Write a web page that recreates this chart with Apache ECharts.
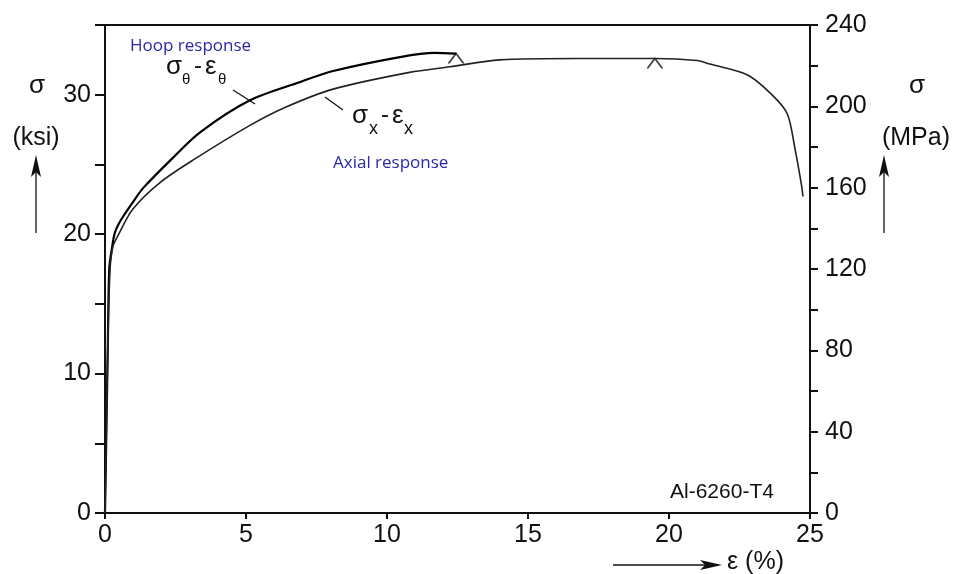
<!DOCTYPE html>
<html>
<head>
<meta charset="utf-8">
<script src="https://cdn.jsdelivr.net/npm/echarts@6/dist/echarts.min.js"></script>
<style>
  html, body { margin: 0; padding: 0; background: #fff; }
  #chart { width: 959px; height: 574px; }
</style>
</head>
<body>
<div id="chart"></div>
<script>
// 环向响应 (hoop)：应变 % / 应力 ksi
const hoopStrain = [0, 0.05, 0.1, 0.15, 0.24, 0.35, 0.59, 1.06, 1.35, 2.37, 3.37, 5.14, 6.9, 8.09, 10.46, 11.7, 12.45];
const hoopStress = [0, 6, 12, 17.5, 18.9, 20.1, 21.1, 22.5, 23.3, 25.4, 27.3, 29.6, 30.9, 31.7, 32.7, 33.0, 32.95];

// 轴向响应 (axial)
const axialStrain = [0, 0.05, 0.1, 0.18, 0.28, 0.46, 0.99, 1.95, 3.19, 5.14, 6.4, 8.09, 10.8, 12.23, 14.0, 16.8, 19.5, 21.0, 21.45, 22.8, 23.7, 24.2, 24.47, 24.7, 24.75];
const axialStress = [0, 6, 12, 17.5, 19.1, 19.9, 21.8, 23.7, 25.4, 27.8, 29.1, 30.4, 31.6, 32.0, 32.5, 32.6, 32.6, 32.45, 32.2, 31.4, 29.9, 28.6, 26.1, 23.5, 22.7];

// 标记点 (^)
const markStrain = [12.45, 19.5];
const markStress = [32.95, 32.6];

// 刻度
const strainTicks = [0, 5, 10, 15, 20, 25];
const ksiLabels = [0, 10, 20, 30];
const mpaLabels = [0, 40, 80, 120, 160, 200, 240];

const FONT = 'Liberation Sans';
const zip = (xs, ys) => xs.map((x, i) => [x, ys[i]]);

const chart = echarts.init(document.getElementById('chart'));

const axisLine = { show: true, onZero: false, lineStyle: { color: '#111', width: 2 } };
const tick = len => ({ show: true, inside: false, length: len, lineStyle: { color: '#111', width: 2 } });

const option = {
    animation: false,
    grid: { left: 105, right: 149, top: 25, bottom: 61, containLabel: false },
    xAxis: [
        {
            type: 'value', position: 'bottom',
            min: strainTicks[0], max: strainTicks[strainTicks.length - 1], interval: 5,
            axisLine, axisTick: tick(6), splitLine: { show: false },
            axisLabel: { fontFamily: FONT, fontSize: 25, color: '#111', margin: 10 }
        },
        {
            type: 'value', position: 'top',
            min: 0, max: 25,
            axisLine, axisTick: { show: false }, axisLabel: { show: false }, splitLine: { show: false }
        }
    ],
    yAxis: [
        {
            type: 'value', position: 'left',
            min: 0, max: 35, interval: 5,
            axisLine, axisTick: tick(10), splitLine: { show: false },
            axisLabel: {
                fontFamily: FONT, fontSize: 25, color: '#111', margin: 14,
                formatter: v => ksiLabels.includes(v) ? String(v) : ''
            }
        },
        {
            type: 'value', position: 'right',
            min: 0, max: 240, interval: 20,
            axisLine, axisTick: tick(8), splitLine: { show: false },
            axisLabel: {
                fontFamily: FONT, fontSize: 25, color: '#111', margin: 15,
                formatter: v => mpaLabels.includes(v) ? String(v) : ''
            }
        }
    ],
    series: [
        {
            name: 'hoop', type: 'line', data: zip(hoopStrain, hoopStress),
            smooth: 0.3, symbol: 'none',
            lineStyle: { color: '#000', width: 2.2 }
        },
        {
            name: 'axial', type: 'line', data: zip(axialStrain, axialStress),
            smooth: 0.3, symbol: 'none',
            lineStyle: { color: '#222', width: 1.6 }
        },
        {
            name: 'limit', type: 'scatter', data: zip(markStrain, markStress),
            symbol: 'path://M0,10L7,0L14,10', symbolSize: [15, 10], symbolOffset: [0, '50%'],
            itemStyle: { color: 'none', borderColor: '#111', borderWidth: 1.6 }
        }
    ],
    graphic: [
        // 注释文字
        { type: 'text', x: 130, y: 46, style: { text: 'Hoop response', fill: '#2828a8', font: '17px "Open Sans"', verticalAlign: 'middle' } },
        { type: 'text', x: 333, y: 163, style: { text: 'Axial response', fill: '#2828a8', font: '17px "Open Sans"', verticalAlign: 'middle' } },

        { type: 'text', x: 166, y: 67, style: { text: 'σ', fill: '#111', font: '26px "Liberation Sans"', verticalAlign: 'middle' } },
        { type: 'text', x: 182, y: 80, style: { text: 'θ', fill: '#111', font: '15px "Liberation Sans"', verticalAlign: 'middle' } },
        { type: 'text', x: 194, y: 66, style: { text: '-', fill: '#111', font: '24px "Liberation Sans"', verticalAlign: 'middle' } },
        { type: 'text', x: 205, y: 67, style: { text: 'ε', fill: '#111', font: '26px "Liberation Sans"', verticalAlign: 'middle' } },
        { type: 'text', x: 218, y: 80, style: { text: 'θ', fill: '#111', font: '15px "Liberation Sans"', verticalAlign: 'middle' } },
        { type: 'line', shape: { x1: 233, y1: 90, x2: 255, y2: 104 }, style: { stroke: '#111', lineWidth: 1.3 } },

        { type: 'text', x: 352, y: 116, style: { text: 'σ', fill: '#111', font: '26px "Liberation Sans"', verticalAlign: 'middle' } },
        { type: 'text', x: 369, y: 129, style: { text: 'x', fill: '#111', font: '18px "Liberation Sans"', verticalAlign: 'middle' } },
        { type: 'text', x: 381, y: 115, style: { text: '-', fill: '#111', font: '24px "Liberation Sans"', verticalAlign: 'middle' } },
        { type: 'text', x: 392, y: 116, style: { text: 'ε', fill: '#111', font: '26px "Liberation Sans"', verticalAlign: 'middle' } },
        { type: 'text', x: 404, y: 129, style: { text: 'x', fill: '#111', font: '18px "Liberation Sans"', verticalAlign: 'middle' } },
        { type: 'line', shape: { x1: 325, y1: 97, x2: 343, y2: 110 }, style: { stroke: '#111', lineWidth: 1.3 } },

        { type: 'text', x: 670, y: 492, style: { text: 'Al-6260-T4', fill: '#111', font: '21px "Liberation Sans"', verticalAlign: 'middle' } },

        // 左轴标题
        { type: 'text', x: 37, y: 86, style: { text: 'σ', fill: '#111', font: '26px "Liberation Sans"', align: 'center', verticalAlign: 'middle' } },
        { type: 'text', x: 36, y: 138, style: { text: '(ksi)', fill: '#111', font: '25px "Liberation Sans"', align: 'center', verticalAlign: 'middle' } },
        { type: 'line', shape: { x1: 36, y1: 233, x2: 36, y2: 168 }, style: { stroke: '#111', lineWidth: 1.3 } },
        { type: 'polygon', shape: { points: [[36, 155], [31, 177], [36, 172], [41, 177]] }, style: { fill: '#111' } },

        // 右轴标题
        { type: 'text', x: 917, y: 86, style: { text: 'σ', fill: '#111', font: '26px "Liberation Sans"', align: 'center', verticalAlign: 'middle' } },
        { type: 'text', x: 916, y: 138, style: { text: '(MPa)', fill: '#111', font: '25px "Liberation Sans"', align: 'center', verticalAlign: 'middle' } },
        { type: 'line', shape: { x1: 884, y1: 233, x2: 884, y2: 168 }, style: { stroke: '#111', lineWidth: 1.3 } },
        { type: 'polygon', shape: { points: [[884, 155], [879, 177], [884, 172], [889, 177]] }, style: { fill: '#111' } },

        // x轴标题
        { type: 'line', shape: { x1: 613, y1: 565, x2: 712, y2: 565 }, style: { stroke: '#111', lineWidth: 1.3 } },
        { type: 'polygon', shape: { points: [[722, 565], [700, 560], [705, 565], [700, 570]] }, style: { fill: '#111' } },
        { type: 'text', x: 727, y: 562, style: { text: 'ε (%)', fill: '#111', font: '25px "Liberation Sans"', verticalAlign: 'middle' } }
    ]
};

chart.setOption(option);
window.addEventListener('resize', () => chart.resize());
</script>
</body>
</html>
